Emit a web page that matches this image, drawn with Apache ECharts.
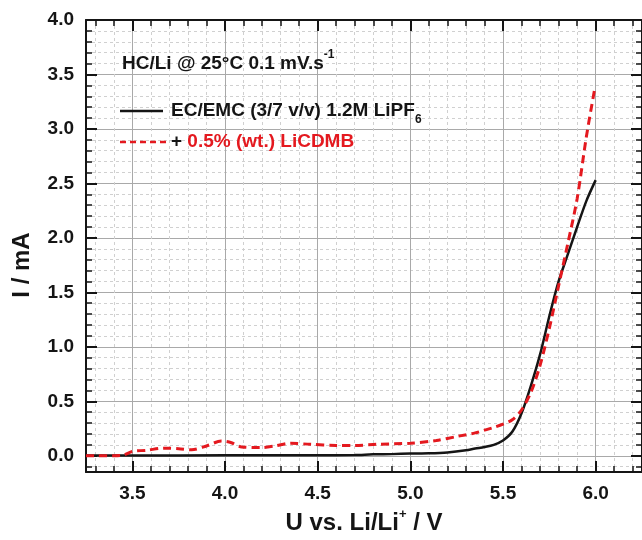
<!DOCTYPE html>
<html>
<head>
<meta charset="utf-8">
<script src="https://cdn.jsdelivr.net/npm/echarts@6/dist/echarts.min.js"></script>
<style>
  html, body { margin: 0; padding: 0; background: #fff; }
  #chart { width: 642px; height: 540px; }
</style>
</head>
<body>
<div id="chart"></div>
<script>
// Linear sweep voltammetry, HC/Li cell
const baseName = 'EC/EMC (3/7 v/v) 1.2M LiPF6';
const addName = '+ 0.5% (wt.) LiCDMB';

const baseU = [3.25, 3.5, 4.0, 4.5, 4.7, 4.8, 4.9, 5.0, 5.1, 5.2, 5.3, 5.35, 5.4, 5.45, 5.5, 5.55,
  5.6, 5.65, 5.7, 5.75, 5.8, 5.85, 5.9, 5.95, 6.0];
const baseI = [0.003, 0.003, 0.004, 0.005, 0.007, 0.013, 0.015, 0.02, 0.023, 0.031, 0.05, 0.066, 0.08, 0.1, 0.14, 0.22,
  0.39, 0.64, 0.93, 1.28, 1.6, 1.85, 2.1, 2.34, 2.53];

const addU = [3.25, 3.3, 3.4, 3.45, 3.5, 3.575, 3.67, 3.75, 3.82, 3.9, 3.98, 4.035, 4.09, 4.195, 4.27,
  4.355, 4.46, 4.6, 4.7, 4.82, 5.0, 5.14, 5.26, 5.35, 5.4, 5.45, 5.5, 5.55, 5.6, 5.65, 5.7,
  5.75, 5.8, 5.85, 5.9, 5.95, 5.995];
const addI = [0.0, 0.0, 0.0, 0.005, 0.04, 0.05, 0.07, 0.065, 0.055, 0.09, 0.135, 0.12, 0.08, 0.075, 0.09,
  0.115, 0.105, 0.095, 0.095, 0.105, 0.115, 0.14, 0.18, 0.21, 0.235, 0.26, 0.29, 0.33, 0.42, 0.58, 0.83,
  1.17, 1.56, 1.95, 2.36, 2.93, 3.37];

const xMajor = [3.5, 4.0, 4.5, 5.0, 5.5, 6.0];
const xMinor = [3.3, 3.4, 3.6, 3.7, 3.8, 3.9, 4.1, 4.2, 4.3, 4.4, 4.6, 4.7, 4.8, 4.9,
  5.1, 5.2, 5.3, 5.4, 5.6, 5.7, 5.8, 5.9, 6.1, 6.2];
const yMajor = [0.0, 0.5, 1.0, 1.5, 2.0, 2.5, 3.0, 3.5, 4.0];
const yMinor = [-0.1, 0.1, 0.2, 0.3, 0.4, 0.6, 0.7, 0.8, 0.9, 1.1, 1.2, 1.3, 1.4, 1.6, 1.7, 1.8, 1.9,
  2.1, 2.2, 2.3, 2.4, 2.6, 2.7, 2.8, 2.9, 3.1, 3.2, 3.3, 3.4, 3.6, 3.7, 3.8, 3.9];

const X_MIN = 3.25, X_MAX = 6.25, Y_MIN = -0.15, Y_MAX = 4.0;

const INK = '#151515';
const RED = '#e4191f';
const FONT = '"Liberation Sans", Arial, sans-serif';

const zip = (u, i) => u.map((v, k) => [v, i[k]]);

function mainAxis(pos, values, withLabels, extra) {
  const horiz = pos === 'top' || pos === 'bottom';
  return Object.assign({
    type: 'value', position: pos, min: horiz ? X_MIN : Y_MIN, max: horiz ? X_MAX : Y_MAX,
    axisLine: { show: true, onZero: false, lineStyle: { color: INK, width: 2 } },
    axisTick: { show: true, inside: true, length: 11, customValues: values, lineStyle: { color: INK, width: 2 } },
    axisLabel: {
      show: withLabels, customValues: values, margin: 12,
      formatter: v => v.toFixed(1),
      color: INK, fontSize: 19, fontWeight: 'bold', fontFamily: FONT
    },
    splitLine: { show: false },
    minorTick: { show: false }
  }, extra || {});
}

function minorAxis(pos, values, grid) {
  const horiz = pos === 'top' || pos === 'bottom';
  return {
    type: 'value', position: pos, min: horiz ? X_MIN : Y_MIN, max: horiz ? X_MAX : Y_MAX,
    axisLine: { show: false, onZero: false },
    axisTick: { show: true, inside: true, length: 6, customValues: values, lineStyle: { color: INK, width: 1.5 } },
    axisLabel: { show: false },
    splitLine: { show: grid, lineStyle: { color: '#d0d0d0', width: 1, type: [3, 3] } }
  };
}

const chart = echarts.init(document.getElementById('chart'), null, { renderer: 'canvas' });

// rich styles for component text (ECharts naming)
const richMain = { fontSize: 19, fontWeight: 'bold', fontFamily: FONT, color: INK, lineHeight: 30 };
const richSup = { fontSize: 12, fontWeight: 'bold', fontFamily: FONT, color: INK, lineHeight: 12, verticalAlign: 'top' };
// rich styles for graphic text (zrender naming)
const gMain = { font: 'bold 19px ' + FONT, fill: INK, lineHeight: 30 };
const gRed = { font: 'bold 19px ' + FONT, fill: RED, lineHeight: 30 };
const gSub = { font: 'bold 12px ' + FONT, fill: INK, lineHeight: 12, verticalAlign: 'bottom' };

chart.setOption({
  backgroundColor: '#fff',
  animation: false,
  title: {
    text: '{a|HC/Li @ 25°C 0.1 mV.s}{s|-1}',
    left: 122, top: 49, padding: 0,
    textStyle: { rich: { a: richMain, s: richSup } }
  },
  graphic: [
    // legend keys
    { type: 'line', shape: { x1: 120, y1: 111, x2: 163, y2: 111 },
      style: { stroke: INK, lineWidth: 2.5 }, z: 10 },
    { type: 'text', x: 171, y: 111,
      style: { text: '{a|EC/EMC (3/7 v/v) 1.2M LiPF}{sub|6}', rich: { a: gMain, sub: gSub },
        verticalAlign: 'middle' }, z: 10 },
    { type: 'line', shape: { x1: 120, y1: 142, x2: 166, y2: 142 },
      style: { stroke: RED, lineWidth: 2.5, lineDash: [6, 4] }, z: 10 },
    { type: 'text', x: 171, y: 142,
      style: { text: '{a|+ }{r|0.5% (wt.) LiCDMB}', rich: { a: gMain, r: gRed },
        verticalAlign: 'middle' }, z: 10 },
    // y-axis title
    { type: 'text', x: 22, y: 265, rotation: Math.PI / 2,
      style: { text: 'I / mA', font: 'bold 24px ' + FONT, fill: INK, align: 'center', verticalAlign: 'middle' }, z: 10 }
  ],
  grid: { left: 86, right: -6, top: 20, bottom: 67, containLabel: false },
  xAxis: [
    mainAxis('bottom', xMajor, true, {
      splitLine: { show: true, lineStyle: { color: '#a9a9a9', width: 1 } },
      name: '{a|U vs. Li/Li}{s|+}{a| / V}', nameLocation: 'middle', nameGap: 31,
      nameTextStyle: {
        rich: {
          a: { fontSize: 24, fontWeight: 'bold', fontFamily: FONT, color: INK, lineHeight: 30 },
          s: { fontSize: 13, fontWeight: 'bold', fontFamily: FONT, color: INK, lineHeight: 13, verticalAlign: 'top' }
        }
      }
    }),
    mainAxis('top', xMajor, false),
    minorAxis('bottom', xMinor, true),
    minorAxis('top', xMinor, false)
  ],
  yAxis: [
    mainAxis('left', yMajor, true, {
      splitLine: { show: true, lineStyle: { color: '#a9a9a9', width: 1 } }
    }),
    mainAxis('right', yMajor, false),
    minorAxis('left', yMinor, true),
    minorAxis('right', yMinor, false)
  ],
  series: [
    {
      name: baseName, type: 'line', xAxisIndex: 0, yAxisIndex: 0,
      data: zip(baseU, baseI), showSymbol: false, symbol: 'none',
      smooth: 0.3,
      lineStyle: { color: INK, width: 2.5 }, z: 5
    },
    {
      name: addName, type: 'line', xAxisIndex: 0, yAxisIndex: 0,
      data: zip(addU, addI), showSymbol: false, symbol: 'none',
      smooth: 0.3,
      lineStyle: { color: RED, width: 3, type: [8, 5] }, z: 6
    }
  ]
});
</script>
</body>
</html>
